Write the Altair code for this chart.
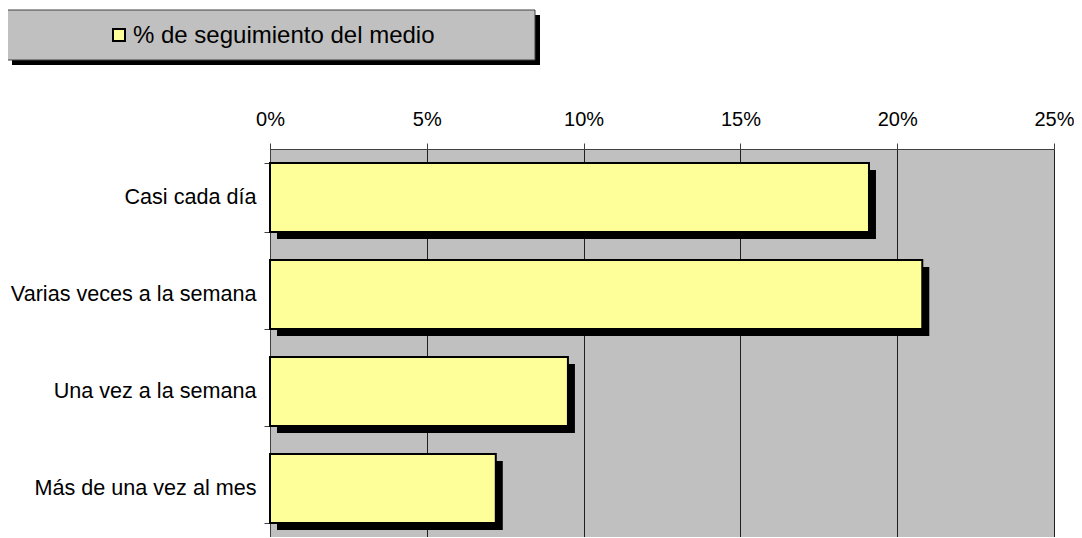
import altair as alt
import pandas as pd

categories = ["Casi cada día", "Varias veces a la semana", "Una vez a la semana", "Más de una vez al mes"]
values = [0.191, 0.208, 0.095, 0.072]
series_name = ["% de seguimiento del medio"]
x_ticks = [0, 0.05, 0.10, 0.15, 0.20, 0.25]

df = pd.DataFrame({"cat": categories, "val": values})
legend_df = pd.DataFrame({"name": series_name})

FONT = "Liberation Sans"

y_enc = alt.Y("cat:N", sort=categories,
              scale=alt.Scale(paddingInner=0.29, paddingOuter=0.145),
              axis=alt.Axis(title=None, orient="left", tickBand="extent", tickSize=6,
                            labelFontSize=21.6, labelPadding=8, labelLimit=400,
                            labelColor="black", labelFont=FONT,
                            domainColor="#404040", tickColor="#404040", grid=False))
x_enc = alt.X("val:Q", scale=alt.Scale(domain=[0, 0.25], nice=False, zero=True),
              axis=alt.Axis(title=None, orient="top", values=x_ticks, format=".0%",
                            labelFontSize=20, labelFont=FONT, labelColor="black",
                            labelFlush=False, labelOverlap=False, labelBound=False,
                            tickSize=6, labelPadding=14,
                            domainColor="#404040", tickColor="#404040",
                            grid=True, gridColor="#202020", gridWidth=1, gridOpacity=1))

shadow = alt.Chart(df).mark_bar(color="black", xOffset=7, yOffset=7, x2Offset=7).encode(
    x=x_enc, y=y_enc)
bars = alt.Chart(df).mark_bar(color="#ffff99", stroke="black", strokeWidth=2).encode(
    x=alt.X("val:Q"), y=alt.Y("cat:N", sort=categories))

legend_shadow = alt.Chart(legend_df).mark_rect(color="black").encode(
    x=alt.value(-258), x2=alt.value(270), y=alt.value(-134), y2=alt.value(-84))
legend_box = alt.Chart(legend_df).mark_rect(fill="#c0c0c0", stroke="#404040", strokeWidth=1).encode(
    x=alt.value(-263), x2=alt.value(265), y=alt.value(-139), y2=alt.value(-89))
legend_sym = alt.Chart(legend_df).mark_rect(fill="#ffff99", stroke="black", strokeWidth=2).encode(
    x=alt.value(-157), x2=alt.value(-145), y=alt.value(-120), y2=alt.value(-108))
legend_text = alt.Chart(legend_df).mark_text(align="left", baseline="middle", fontSize=24,
                                             font=FONT, color="black").encode(
    x=alt.value(-137), y=alt.value(-113), text="name:N")

chart = alt.layer(shadow, bars, legend_shadow, legend_box, legend_sym, legend_text).properties(
    width=784, height=388,
    autosize=alt.AutoSizeParams(type="none"),
    padding={"left": 262, "top": 141, "right": 20, "bottom": 0},
    background="white",
).configure_view(fill="#c0c0c0", stroke="#808080", strokeWidth=1).configure_axis(
    labelFont=FONT)

chart.save("out.html", embed_options={"renderer": "svg", "actions": False})
